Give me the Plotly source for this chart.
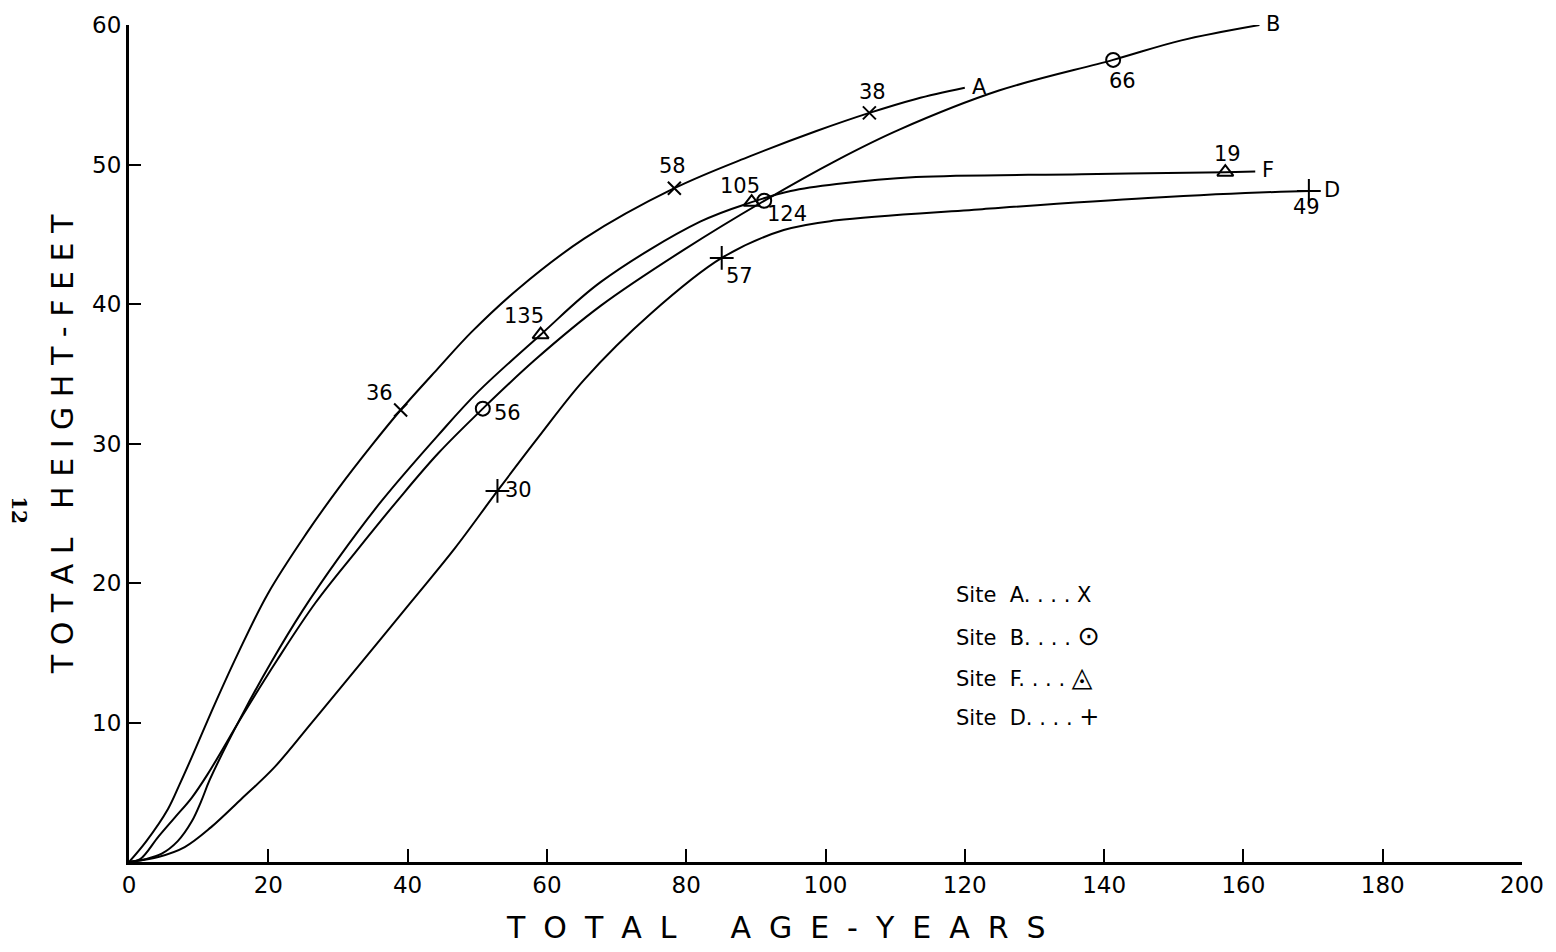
import plotly.graph_objects as go

# ---- growth curves: total height (ft) against total age (years) ----
a_age = [0, 2.5, 5.6, 7.3, 9, 12.3, 15.6, 19.9, 25.4, 30.1, 34.9, 39, 44.4, 49.2, 55.9,
         65.4, 78.3, 89.2, 98.7, 106.3, 113, 120]
a_ht = [0, 1.5, 3.8, 5.6, 7.5, 11.3, 14.9, 19.2, 23.5, 26.8, 29.9, 32.4, 35.4, 38.0, 41.1,
        44.7, 48.3, 50.6, 52.4, 53.7, 54.7, 55.5]

b_age = [0, 1.6, 4.2, 6.6, 9, 11.3, 16.3, 21.3, 26.8, 32.5, 38.7, 44.4, 50.8, 58.3,
         67.8, 79.7, 91.2, 101.6, 110.6, 124.9, 141.3, 151.1, 162.3]
b_ht = [0, 0.2, 1.8, 3.2, 4.6, 6.3, 10.5, 14.5, 18.6, 22.2, 26.0, 29.3, 32.5, 36.0,
        39.9, 43.9, 47.4, 50.3, 52.5, 55.3, 57.5, 58.9, 60.0]

f_age = [0, 2.3, 4.7, 7, 9, 10.4, 11.6, 16.3, 20.4, 24.9, 30.1, 36.3, 44.4, 50.1, 59.1,
         67.8, 82, 89.4, 95, 101.6, 113, 136.8, 157.4, 161.7]
f_ht = [0, 0.2, 0.6, 1.5, 2.9, 4.4, 5.9, 10.6, 14.3, 18.0, 21.8, 25.9, 30.6, 33.7, 37.8,
        41.6, 45.9, 47.3, 48.1, 48.6, 49.1, 49.3, 49.45, 49.5]

d_age = [0, 4.2, 8, 11.8, 16.1, 20.9, 26.1, 30.9, 40.6, 46.8, 52.9, 58.7, 65.4, 74.9,
         85.1, 94, 101.6, 122.5, 146.3, 169.4, 170.6]
d_ht = [0, 0.36, 1.07, 2.5, 4.5, 6.8, 9.9, 12.8, 18.7, 22.5, 26.6, 30.4, 34.6, 39.3,
        43.3, 45.3, 46.0, 46.8, 47.6, 48.1, 48.1]

# ---- marked sample points and their counts ----
a_pt_age = [39, 78.3, 106.3]
a_pt_ht = [32.4, 48.3, 53.7]
a_pt_n = ["36", "58", "38"]

b_pt_age = [50.8, 91.2, 141.3]
b_pt_ht = [32.5, 47.4, 57.5]
b_pt_n = ["56", "124", "66"]

f_pt_age = [59.1, 89.4, 157.4]
f_pt_ht = [37.8, 47.3, 49.45]
f_pt_n = ["135", "105", "19"]

d_pt_age = [52.9, 85.1, 169.4]
d_pt_ht = [26.6, 43.3, 48.1]
d_pt_n = ["30", "57", "49"]

sites = ["A", "B", "F", "D"]
x_ticks = list(range(0, 201, 20))
y_ticks = list(range(10, 61, 10))

FONT = "DejaVu Sans"
INK = "black"

curves = {
    "A": (a_age, a_ht, a_pt_age, a_pt_ht, a_pt_n),
    "B": (b_age, b_ht, b_pt_age, b_pt_ht, b_pt_n),
    "F": (f_age, f_ht, f_pt_age, f_pt_ht, f_pt_n),
    "D": (d_age, d_ht, d_pt_age, d_pt_ht, d_pt_n),
}

marker_style = {
    "A": dict(symbol="x-thin-open", size=13),
    "B": dict(symbol="circle-open", size=14),
    "F": dict(symbol="triangle-up-open", size=14),
    "D": dict(symbol="cross-thin-open", size=17),
}

# pixel offsets of each count label from its marker
label_offsets = {
    "A": [(-21, 17), (-2, 22), (3, 21)],
    "B": [(25, -4), (23, -13), (9, -21)],
    "F": [(-17, 19), (-12, 16), (2, 18)],
    "D": [(21, 1), (18, -18), (-2, -16)],
}

fig = go.Figure()
annotations = []

for s in sites:
    ages, hts, p_age, p_ht, p_n = curves[s]
    fig.add_trace(go.Scatter(
        x=ages, y=hts, mode="lines",
        line=dict(color=INK, width=2, shape="spline", smoothing=1.0),
        hoverinfo="skip", showlegend=False,
    ))
    fig.add_trace(go.Scatter(
        x=p_age, y=p_ht, mode="markers",
        marker=dict(color=INK, line=dict(color=INK, width=2), **marker_style[s]),
        showlegend=False, name=f"Site {s}",
    ))
    for (dx, dy), xa, ya, t in zip(label_offsets[s], p_age, p_ht, p_n):
        annotations.append(dict(
            x=xa, y=ya, xref="x", yref="y", text=t, showarrow=False,
            xshift=dx, yshift=dy, font=dict(family=FONT, size=21, color=INK),
        ))
    # curve-end site letter
    annotations.append(dict(
        x=ages[-1], y=hts[-1], xref="x", yref="y", text=s, showarrow=False,
        xanchor="left", xshift=5, yshift=1,
        font=dict(family=FONT, size=21, color=INK),
    ))

# key of site symbols
key_rows = [("A", "X", 21), ("B", "⊙", 27), ("F", "◬", 27), ("D", "+", 24)]
for i, (s, sym, sym_size) in enumerate(key_rows):
    annotations.append(dict(
        x=0.592, y=0.3195 - i * 0.0487, xref="paper", yref="paper",
        text=f"Site  {s}. . . . <span style='font-size:{sym_size}px'>{sym}</span>",
        showarrow=False, xanchor="left", yanchor="middle",
        font=dict(family=FONT, size=21, color=INK),
    ))

# axis titles, spaced lettering
gap = "\u2002\u200a"
x_title = gap.join("TOTAL") + gap * 3 + gap.join("AGE-YEARS")
y_title = " ".join("TOTAL") + "   " + " ".join("HEIGHT-FEET")
annotations.append(dict(
    x=0.4642, y=-0.0784, xref="paper", yref="paper", text=x_title,
    showarrow=False, xanchor="center", yanchor="middle",
    font=dict(family=FONT, size=30, color=INK),
))
annotations.append(dict(
    x=-0.0482, y=0.499, xref="paper", yref="paper", textangle=-90,
    text=y_title, showarrow=False, xanchor="center", yanchor="middle",
    font=dict(family=FONT, size=30, color=INK),
))
# page number
annotations.append(dict(
    x=-0.0795, y=0.42, xref="paper", yref="paper", textangle=90,
    text="<b>12</b>", showarrow=False, xanchor="center", yanchor="middle",
    font=dict(family="DejaVu Serif", size=20, color=INK),
))

fig.update_layout(
    width=1556, height=952,
    margin=dict(l=129, r=32, t=20, b=90),
    paper_bgcolor="white", plot_bgcolor="white",
    annotations=annotations,
    showlegend=False,
)
fig.update_xaxes(
    range=[0, 200], tickvals=x_ticks, ticks="inside", ticklen=13, tickwidth=2,
    tickcolor=INK, showline=True, linecolor=INK, linewidth=3, showgrid=False,
    zeroline=False, ticklabelstandoff=0,
    tickfont=dict(family=FONT, size=23, color=INK),
)
fig.update_yaxes(
    range=[0, 60], tickvals=y_ticks, ticks="inside", ticklen=12, tickwidth=2,
    tickcolor=INK, showline=True, linecolor=INK, linewidth=3, showgrid=False,
    zeroline=False, ticklabelstandoff=0,
    tickfont=dict(family=FONT, size=23, color=INK),
)

fig.write_html("out.html")
